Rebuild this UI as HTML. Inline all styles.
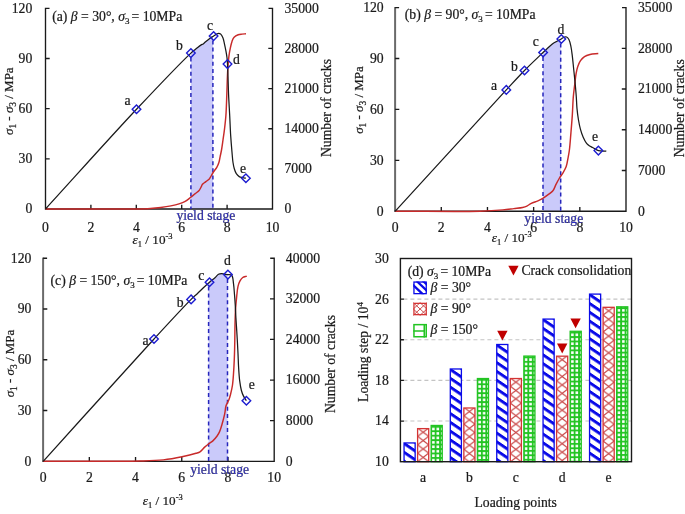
<!DOCTYPE html>
<html><head><meta charset="utf-8"><style>
html,body{margin:0;padding:0;background:#fff;}
svg{display:block;font-family:"Liberation Serif", serif;filter:blur(0.3px);}
text{stroke:#1a1a1a;stroke-width:0.22px;}
</style></head><body>
<svg width="685" height="514" viewBox="0 0 685 514">
<rect width="685" height="514" fill="#fff"/>
<clipPath id="clipa"><rect x="190.90" y="3.30" width="22.00" height="205.70"/></clipPath>
<path d="M45.50,209.00 C75.83,175.77 109.86,137.64 136.50,109.30 C156.78,87.73 183.66,59.88 190.90,53.10 C192.60,51.51 193.08,51.24 194.20,50.30 C195.35,49.34 196.52,48.31 197.70,47.40 C198.85,46.51 200.17,45.52 201.20,44.90 C201.94,44.45 202.55,44.33 203.20,43.90 C203.92,43.42 204.54,42.74 205.30,42.10 C206.19,41.35 207.28,40.44 208.20,39.70 C209.01,39.05 209.67,38.47 210.50,37.90 C211.39,37.29 212.34,36.83 213.40,36.20 C214.70,35.43 216.36,33.88 217.70,33.60 C218.72,33.39 219.78,33.46 220.60,34.00 C221.63,34.68 222.37,36.47 223.00,38.00 C223.73,39.77 224.03,42.01 224.50,44.10 C225.00,46.30 225.48,48.63 225.90,50.90 C226.32,53.16 226.73,55.46 227.00,57.70 C227.26,59.86 227.35,61.60 227.50,64.10 C227.71,67.61 227.83,72.19 228.00,76.80 C228.20,82.32 228.33,88.75 228.60,95.00 C228.89,101.63 229.35,108.67 229.70,115.50 C230.05,122.31 230.29,129.47 230.70,135.90 C231.07,141.67 231.57,147.48 232.00,152.30 C232.34,156.10 232.55,159.52 233.00,162.50 C233.36,164.86 233.71,166.86 234.30,168.80 C234.84,170.56 235.40,172.35 236.30,173.70 C237.09,174.89 238.09,175.95 239.20,176.60 C240.24,177.21 241.55,177.33 242.70,177.60 C243.78,177.86 244.83,178.00 245.90,178.20 L245.90,209.00 L45.50,209.00 Z" fill="#cacafa" clip-path="url(#clipa)"/>
<path d="M49.50,8.30 H45.50 V209.00 H272.50 V8.30 H268.50" fill="none" stroke="#1a1a1a" stroke-width="1.35"/>
<path d="M45.50,158.82 h4.2 M45.50,108.65 h4.2 M45.50,58.47 h4.2 M272.50,168.86 h-4.2 M272.50,128.72 h-4.2 M272.50,88.58 h-4.2 M272.50,48.44 h-4.2 M90.90,209.00 v-4.2 M136.30,209.00 v-4.2 M181.70,209.00 v-4.2 M227.10,209.00 v-4.2" stroke="#1a1a1a" stroke-width="1.35"/>
<path d="M190.90,57.50 V209.00" stroke="#2626bc" stroke-width="1.5" stroke-dasharray="4.0,3.1"/>
<path d="M212.90,40.50 V209.00" stroke="#2626bc" stroke-width="1.5" stroke-dasharray="4.0,3.1"/>
<path d="M45.50,209.00 C70.33,209.00 104.27,209.00 120.00,209.00 C127.29,209.00 130.81,209.09 136.00,209.00 C140.93,208.91 146.01,208.79 150.40,208.50 C154.12,208.25 157.28,207.93 160.70,207.50 C164.11,207.07 167.71,206.54 170.90,205.90 C173.77,205.32 176.51,204.71 179.00,203.90 C181.23,203.18 183.25,202.48 185.20,201.40 C187.19,200.29 189.07,198.66 190.80,197.30 C192.38,196.06 193.77,194.77 195.20,193.60 C196.53,192.51 198.09,191.67 199.10,190.50 C200.00,189.45 200.50,188.10 201.10,187.00 C201.62,186.05 201.81,185.13 202.50,184.30 C203.32,183.30 204.77,182.50 205.90,181.60 C207.03,180.70 208.37,179.94 209.30,178.90 C210.19,177.90 210.72,176.65 211.40,175.50 C212.08,174.35 212.61,173.23 213.40,172.00 C214.35,170.52 215.87,168.93 216.80,167.30 C217.68,165.75 218.34,164.23 218.90,162.50 C219.51,160.62 219.76,158.50 220.20,156.40 C220.66,154.17 221.16,151.99 221.60,149.50 C222.11,146.59 222.53,143.28 223.00,140.00 C223.50,136.49 224.04,132.94 224.50,129.10 C225.01,124.82 225.53,120.50 225.90,115.50 C226.35,109.37 226.56,101.36 226.80,95.00 C227.01,89.47 227.09,84.50 227.30,79.50 C227.50,74.82 227.70,70.02 228.00,65.90 C228.25,62.45 228.50,59.44 228.90,56.40 C229.28,53.56 229.75,50.80 230.30,48.20 C230.80,45.82 231.27,43.35 232.00,41.40 C232.59,39.82 233.08,38.39 234.10,37.30 C235.14,36.18 236.81,35.33 238.20,34.80 C239.45,34.32 240.71,34.27 242.00,34.10 C243.31,33.93 244.67,33.90 246.00,33.80" fill="none" stroke="#c82a2a" stroke-width="1.45"/>
<path d="M45.50,209.00 C75.83,175.77 109.86,137.64 136.50,109.30 C156.78,87.73 183.66,59.88 190.90,53.10 C192.60,51.51 193.08,51.24 194.20,50.30 C195.35,49.34 196.52,48.31 197.70,47.40 C198.85,46.51 200.17,45.52 201.20,44.90 C201.94,44.45 202.55,44.33 203.20,43.90 C203.92,43.42 204.54,42.74 205.30,42.10 C206.19,41.35 207.28,40.44 208.20,39.70 C209.01,39.05 209.67,38.47 210.50,37.90 C211.39,37.29 212.34,36.83 213.40,36.20 C214.70,35.43 216.36,33.88 217.70,33.60 C218.72,33.39 219.78,33.46 220.60,34.00 C221.63,34.68 222.37,36.47 223.00,38.00 C223.73,39.77 224.03,42.01 224.50,44.10 C225.00,46.30 225.48,48.63 225.90,50.90 C226.32,53.16 226.73,55.46 227.00,57.70 C227.26,59.86 227.35,61.60 227.50,64.10 C227.71,67.61 227.83,72.19 228.00,76.80 C228.20,82.32 228.33,88.75 228.60,95.00 C228.89,101.63 229.35,108.67 229.70,115.50 C230.05,122.31 230.29,129.47 230.70,135.90 C231.07,141.67 231.57,147.48 232.00,152.30 C232.34,156.10 232.55,159.52 233.00,162.50 C233.36,164.86 233.71,166.86 234.30,168.80 C234.84,170.56 235.40,172.35 236.30,173.70 C237.09,174.89 238.09,175.95 239.20,176.60 C240.24,177.21 241.55,177.33 242.70,177.60 C243.78,177.86 244.83,178.00 245.90,178.20" fill="none" stroke="#1a1a1a" stroke-width="1.25"/>
<path d="M136.50,105.00 L140.80,109.30 L136.50,113.60 L132.20,109.30 Z" fill="none" stroke="#1c1cd0" stroke-width="1.4"/>
<path d="M190.90,48.80 L195.20,53.10 L190.90,57.40 L186.60,53.10 Z" fill="none" stroke="#1c1cd0" stroke-width="1.4"/>
<path d="M213.60,31.80 L217.90,36.10 L213.60,40.40 L209.30,36.10 Z" fill="none" stroke="#1c1cd0" stroke-width="1.4"/>
<path d="M227.50,59.80 L231.80,64.10 L227.50,68.40 L223.20,64.10 Z" fill="none" stroke="#1c1cd0" stroke-width="1.4"/>
<path d="M245.90,173.90 L250.20,178.20 L245.90,182.50 L241.60,178.20 Z" fill="none" stroke="#1c1cd0" stroke-width="1.4"/>
<text x="127.60" y="104.80" font-size="13.7" text-anchor="middle" fill="#1a1a1a" stroke="#1a1a1a" >a</text>
<text x="179.50" y="50.20" font-size="13.7" text-anchor="middle" fill="#1a1a1a" stroke="#1a1a1a" >b</text>
<text x="210.10" y="29.50" font-size="13.7" text-anchor="middle" fill="#1a1a1a" stroke="#1a1a1a" >c</text>
<text x="236.30" y="64.00" font-size="13.7" text-anchor="middle" fill="#1a1a1a" stroke="#1a1a1a" >d</text>
<text x="243.00" y="172.70" font-size="13.7" text-anchor="middle" fill="#1a1a1a" stroke="#1a1a1a" >e</text>
<text x="32.30" y="213.40" font-size="13.7" text-anchor="end" fill="#1a1a1a" stroke="#1a1a1a" >0</text>
<text x="32.30" y="163.22" font-size="13.7" text-anchor="end" fill="#1a1a1a" stroke="#1a1a1a" >30</text>
<text x="32.30" y="113.05" font-size="13.7" text-anchor="end" fill="#1a1a1a" stroke="#1a1a1a" >60</text>
<text x="32.30" y="62.87" font-size="13.7" text-anchor="end" fill="#1a1a1a" stroke="#1a1a1a" >90</text>
<text x="32.30" y="12.70" font-size="13.7" text-anchor="end" fill="#1a1a1a" stroke="#1a1a1a" >120</text>
<text x="284.50" y="213.40" font-size="13.7" text-anchor="start" fill="#1a1a1a" stroke="#1a1a1a" >0</text>
<text x="284.50" y="173.26" font-size="13.7" text-anchor="start" fill="#1a1a1a" stroke="#1a1a1a" >7000</text>
<text x="284.50" y="133.12" font-size="13.7" text-anchor="start" fill="#1a1a1a" stroke="#1a1a1a" >14000</text>
<text x="284.50" y="92.98" font-size="13.7" text-anchor="start" fill="#1a1a1a" stroke="#1a1a1a" >21000</text>
<text x="284.50" y="52.84" font-size="13.7" text-anchor="start" fill="#1a1a1a" stroke="#1a1a1a" >28000</text>
<text x="284.50" y="12.70" font-size="13.7" text-anchor="start" fill="#1a1a1a" stroke="#1a1a1a" >35000</text>
<text x="45.50" y="231.70" font-size="13.7" text-anchor="middle" fill="#1a1a1a" stroke="#1a1a1a" >0</text>
<text x="90.90" y="231.70" font-size="13.7" text-anchor="middle" fill="#1a1a1a" stroke="#1a1a1a" >2</text>
<text x="136.30" y="231.70" font-size="13.7" text-anchor="middle" fill="#1a1a1a" stroke="#1a1a1a" >4</text>
<text x="181.70" y="231.70" font-size="13.7" text-anchor="middle" fill="#1a1a1a" stroke="#1a1a1a" >6</text>
<text x="227.10" y="231.70" font-size="13.7" text-anchor="middle" fill="#1a1a1a" stroke="#1a1a1a" >8</text>
<text x="272.50" y="231.70" font-size="13.7" text-anchor="middle" fill="#1a1a1a" stroke="#1a1a1a" >10</text>
<text x="176.40" y="220.20" font-size="13.7" text-anchor="start" fill="#2e2ed2" stroke="#2e2ed2" >yield stage</text>
<text x="52.20" y="20.80" font-size="13.7" fill="#1a1a1a">(a) <tspan font-style="italic">β</tspan> = 30°, <tspan font-style="italic">σ</tspan><tspan font-size="9" dy="3">3</tspan><tspan dy="-3" dx="-1.4"> = 10MPa</tspan></text>
<text x="132.60" y="243.90" font-size="13.2" fill="#1a1a1a"><tspan font-style="italic">ε</tspan><tspan font-size="8.5" dy="3">1</tspan><tspan dy="-3"> / 10</tspan><tspan font-size="8.5" dy="-5">-3</tspan></text>
<text transform="translate(13.00,101.20) rotate(-90)" text-anchor="middle" font-size="13.0" fill="#1a1a1a"><tspan font-style="italic">σ</tspan><tspan font-size="9.3" dy="3.3">1</tspan><tspan dy="-3.3"> - </tspan><tspan font-style="italic">σ</tspan><tspan font-size="9.3" dy="3.3">3</tspan><tspan dy="-3.3"> / MPa</tspan></text>
<text transform="translate(330.90,108.00) rotate(-90)" text-anchor="middle" font-size="13.7" fill="#1a1a1a">Number of cracks</text>
<clipPath id="clipb"><rect x="543.00" y="2.60" width="17.70" height="208.60"/></clipPath>
<path d="M395.30,211.20 C432.30,170.77 484.93,112.96 506.30,89.90 C514.90,80.62 518.32,76.77 524.50,70.50 C530.59,64.31 539.04,56.40 543.10,52.50 C545.07,50.61 546.01,49.67 547.50,48.30 C548.98,46.94 550.70,45.35 552.00,44.30 C552.93,43.55 553.64,43.01 554.50,42.50 C555.31,42.02 556.06,41.78 557.00,41.30 C558.25,40.67 559.98,39.76 561.30,39.00 C562.46,38.33 563.51,37.28 564.50,37.00 C565.24,36.79 565.94,36.71 566.60,37.00 C567.44,37.37 568.26,38.36 568.90,39.50 C569.83,41.16 570.36,43.90 570.90,46.40 C571.53,49.29 571.87,52.52 572.30,55.90 C572.78,59.73 573.16,64.00 573.60,68.20 C574.06,72.62 574.56,77.14 575.00,81.80 C575.46,86.72 575.96,92.27 576.30,97.00 C576.60,101.13 576.64,104.80 577.00,108.60 C577.35,112.30 577.81,115.99 578.40,119.50 C578.96,122.81 579.56,126.06 580.40,129.10 C581.18,131.94 582.10,134.72 583.20,137.20 C584.20,139.45 585.39,141.91 586.60,143.40 C587.46,144.46 588.31,145.03 589.30,145.70 C590.33,146.40 591.42,146.81 592.70,147.50 C594.36,148.39 596.27,149.99 598.40,150.60 C600.75,151.28 603.67,150.93 606.30,151.10 L606.30,211.20 L395.30,211.20 Z" fill="#cacafa" clip-path="url(#clipb)"/>
<path d="M395.10,7.00 V211.20" stroke="#6a6a6a" stroke-width="2.0"/>
<path d="M399.10,7.60 H395.10 M394.40,211.20 H626.00 V7.60 H622.00" fill="none" stroke="#1a1a1a" stroke-width="1.35"/>
<path d="M395.10,160.30 h4.2 M395.10,109.40 h4.2 M395.10,58.50 h4.2 M626.00,170.48 h-4.2 M626.00,129.76 h-4.2 M626.00,89.04 h-4.2 M626.00,48.32 h-4.2 M441.28,211.20 v-4.2 M487.46,211.20 v-4.2 M533.64,211.20 v-4.2 M579.82,211.20 v-4.2" stroke="#1a1a1a" stroke-width="1.35"/>
<path d="M543.00,57.00 V211.20" stroke="#2626bc" stroke-width="1.5" stroke-dasharray="4.0,3.1"/>
<path d="M560.70,43.50 V211.20" stroke="#2626bc" stroke-width="1.5" stroke-dasharray="4.0,3.1"/>
<path d="M395.30,211.20 C423.53,211.20 460.72,211.75 480.00,211.20 C490.01,210.91 496.58,210.44 502.80,209.90 C507.13,209.52 510.34,209.02 513.80,208.60 C516.90,208.22 520.21,208.03 522.60,207.50 C524.31,207.12 525.50,206.76 526.90,206.10 C528.40,205.39 529.63,204.12 531.30,203.30 C533.23,202.35 535.89,201.78 537.90,200.90 C539.68,200.13 541.19,199.37 542.80,198.40 C544.49,197.38 546.15,196.14 547.80,194.90 C549.51,193.61 551.54,192.51 552.90,190.80 C554.34,188.99 555.02,186.31 556.10,184.20 C557.12,182.22 558.07,180.37 559.20,178.50 C560.36,176.57 561.84,174.78 563.00,172.80 C564.18,170.79 565.37,168.84 566.20,166.50 C567.14,163.84 567.55,160.46 568.10,157.60 C568.61,154.97 569.01,153.04 569.40,150.00 C569.99,145.49 570.42,138.80 570.90,133.10 C571.39,127.27 571.90,121.36 572.30,115.40 C572.71,109.33 572.84,102.54 573.30,97.00 C573.68,92.43 574.22,88.52 574.70,84.50 C575.15,80.74 575.52,76.79 576.10,73.60 C576.56,71.05 576.96,68.97 577.70,66.80 C578.43,64.67 579.30,62.45 580.50,60.70 C581.61,59.09 582.93,57.63 584.50,56.60 C586.09,55.55 587.94,55.01 590.00,54.50 C592.45,53.89 595.53,53.83 598.30,53.50" fill="none" stroke="#c82a2a" stroke-width="1.45"/>
<path d="M395.30,211.20 C432.30,170.77 484.93,112.96 506.30,89.90 C514.90,80.62 518.32,76.77 524.50,70.50 C530.59,64.31 539.04,56.40 543.10,52.50 C545.07,50.61 546.01,49.67 547.50,48.30 C548.98,46.94 550.70,45.35 552.00,44.30 C552.93,43.55 553.64,43.01 554.50,42.50 C555.31,42.02 556.06,41.78 557.00,41.30 C558.25,40.67 559.98,39.76 561.30,39.00 C562.46,38.33 563.51,37.28 564.50,37.00 C565.24,36.79 565.94,36.71 566.60,37.00 C567.44,37.37 568.26,38.36 568.90,39.50 C569.83,41.16 570.36,43.90 570.90,46.40 C571.53,49.29 571.87,52.52 572.30,55.90 C572.78,59.73 573.16,64.00 573.60,68.20 C574.06,72.62 574.56,77.14 575.00,81.80 C575.46,86.72 575.96,92.27 576.30,97.00 C576.60,101.13 576.64,104.80 577.00,108.60 C577.35,112.30 577.81,115.99 578.40,119.50 C578.96,122.81 579.56,126.06 580.40,129.10 C581.18,131.94 582.10,134.72 583.20,137.20 C584.20,139.45 585.39,141.91 586.60,143.40 C587.46,144.46 588.31,145.03 589.30,145.70 C590.33,146.40 591.42,146.81 592.70,147.50 C594.36,148.39 596.27,149.99 598.40,150.60 C600.75,151.28 603.67,150.93 606.30,151.10" fill="none" stroke="#1a1a1a" stroke-width="1.25"/>
<path d="M506.30,85.60 L510.60,89.90 L506.30,94.20 L502.00,89.90 Z" fill="none" stroke="#1c1cd0" stroke-width="1.4"/>
<path d="M524.50,66.20 L528.80,70.50 L524.50,74.80 L520.20,70.50 Z" fill="none" stroke="#1c1cd0" stroke-width="1.4"/>
<path d="M543.10,48.20 L547.40,52.50 L543.10,56.80 L538.80,52.50 Z" fill="none" stroke="#1c1cd0" stroke-width="1.4"/>
<path d="M561.30,34.70 L565.60,39.00 L561.30,43.30 L557.00,39.00 Z" fill="none" stroke="#1c1cd0" stroke-width="1.4"/>
<path d="M598.40,146.30 L602.70,150.60 L598.40,154.90 L594.10,150.60 Z" fill="none" stroke="#1c1cd0" stroke-width="1.4"/>
<text x="494.10" y="90.20" font-size="13.7" text-anchor="middle" fill="#1a1a1a" stroke="#1a1a1a" >a</text>
<text x="514.50" y="71.20" font-size="13.7" text-anchor="middle" fill="#1a1a1a" stroke="#1a1a1a" >b</text>
<text x="535.80" y="46.40" font-size="13.7" text-anchor="middle" fill="#1a1a1a" stroke="#1a1a1a" >c</text>
<text x="561.00" y="34.10" font-size="13.7" text-anchor="middle" fill="#1a1a1a" stroke="#1a1a1a" >d</text>
<text x="595.10" y="140.80" font-size="13.7" text-anchor="middle" fill="#1a1a1a" stroke="#1a1a1a" >e</text>
<text x="383.70" y="215.60" font-size="13.7" text-anchor="end" fill="#1a1a1a" stroke="#1a1a1a" >0</text>
<text x="383.70" y="164.70" font-size="13.7" text-anchor="end" fill="#1a1a1a" stroke="#1a1a1a" >30</text>
<text x="383.70" y="113.80" font-size="13.7" text-anchor="end" fill="#1a1a1a" stroke="#1a1a1a" >60</text>
<text x="383.70" y="62.90" font-size="13.7" text-anchor="end" fill="#1a1a1a" stroke="#1a1a1a" >90</text>
<text x="383.70" y="12.00" font-size="13.7" text-anchor="end" fill="#1a1a1a" stroke="#1a1a1a" >120</text>
<text x="638.00" y="215.60" font-size="13.7" text-anchor="start" fill="#1a1a1a" stroke="#1a1a1a" >0</text>
<text x="638.00" y="174.88" font-size="13.7" text-anchor="start" fill="#1a1a1a" stroke="#1a1a1a" >7000</text>
<text x="638.00" y="134.16" font-size="13.7" text-anchor="start" fill="#1a1a1a" stroke="#1a1a1a" >14000</text>
<text x="638.00" y="93.44" font-size="13.7" text-anchor="start" fill="#1a1a1a" stroke="#1a1a1a" >21000</text>
<text x="638.00" y="52.72" font-size="13.7" text-anchor="start" fill="#1a1a1a" stroke="#1a1a1a" >28000</text>
<text x="638.00" y="12.00" font-size="13.7" text-anchor="start" fill="#1a1a1a" stroke="#1a1a1a" >35000</text>
<text x="395.10" y="232.00" font-size="13.7" text-anchor="middle" fill="#1a1a1a" stroke="#1a1a1a" >0</text>
<text x="441.28" y="232.00" font-size="13.7" text-anchor="middle" fill="#1a1a1a" stroke="#1a1a1a" >2</text>
<text x="487.46" y="232.00" font-size="13.7" text-anchor="middle" fill="#1a1a1a" stroke="#1a1a1a" >4</text>
<text x="533.64" y="232.00" font-size="13.7" text-anchor="middle" fill="#1a1a1a" stroke="#1a1a1a" >6</text>
<text x="579.82" y="232.00" font-size="13.7" text-anchor="middle" fill="#1a1a1a" stroke="#1a1a1a" >8</text>
<text x="626.00" y="232.00" font-size="13.7" text-anchor="middle" fill="#1a1a1a" stroke="#1a1a1a" >10</text>
<text x="524.30" y="223.20" font-size="13.7" text-anchor="start" fill="#2e2ed2" stroke="#2e2ed2" >yield stage</text>
<text x="404.80" y="19.20" font-size="13.7" fill="#1a1a1a">(b) <tspan font-style="italic">β</tspan> = 90°, <tspan font-style="italic">σ</tspan><tspan font-size="9" dy="3">3</tspan><tspan dy="-3" dx="-1.4"> = 10MPa</tspan></text>
<text x="491.70" y="241.90" font-size="13.2" fill="#1a1a1a"><tspan font-style="italic">ε</tspan><tspan font-size="8.5" dy="3">1</tspan><tspan dy="-3"> / 10</tspan><tspan font-size="8.5" dy="-5">-3</tspan></text>
<text transform="translate(363.00,100.00) rotate(-90)" text-anchor="middle" font-size="13.0" fill="#1a1a1a"><tspan font-style="italic">σ</tspan><tspan font-size="9.3" dy="3.3">1</tspan><tspan dy="-3.3"> - </tspan><tspan font-style="italic">σ</tspan><tspan font-size="9.3" dy="3.3">3</tspan><tspan dy="-3.3"> / MPa</tspan></text>
<text transform="translate(683.50,108.30) rotate(-90)" text-anchor="middle" font-size="13.7" fill="#1a1a1a">Number of cracks</text>
<clipPath id="clipc"><rect x="208.60" y="253.20" width="19.00" height="208.10"/></clipPath>
<path d="M43.20,461.30 C80.13,420.53 126.83,368.49 154.00,339.00 C169.58,322.09 183.76,306.68 191.10,299.40 C194.04,296.48 195.43,295.47 197.50,293.50 C199.52,291.57 201.40,289.59 203.40,287.70 C205.40,285.82 207.49,283.90 209.50,282.20 C211.36,280.62 213.41,279.23 215.00,277.80 C216.34,276.60 217.28,274.98 218.50,274.30 C219.46,273.76 220.51,273.63 221.50,273.60 C222.47,273.57 223.39,273.94 224.40,274.10 C225.51,274.28 226.71,274.38 227.90,274.60 C229.17,274.84 230.87,274.55 231.80,275.50 C233.14,276.86 233.06,280.69 233.50,283.60 C234.00,286.95 234.21,290.98 234.50,294.50 C234.77,297.80 234.98,300.62 235.20,304.10 C235.46,308.24 235.65,313.42 235.90,317.70 C236.12,321.53 236.37,324.93 236.60,328.60 C236.84,332.36 237.08,336.03 237.30,340.00 C237.54,344.33 237.78,349.06 238.00,353.60 C238.22,358.16 238.32,362.74 238.60,367.30 C238.88,371.84 239.17,376.77 239.70,380.90 C240.15,384.39 240.66,387.79 241.40,390.50 C241.97,392.59 242.56,394.19 243.40,395.90 C244.23,397.59 245.40,399.10 246.40,400.70 L246.40,461.30 L43.20,461.30 Z" fill="#cacafa" clip-path="url(#clipc)"/>
<path d="M43.10,257.60 V461.30" stroke="#6a6a6a" stroke-width="2.0"/>
<path d="M47.10,258.20 H43.10 M42.40,461.30 H274.20 V258.20 H270.20" fill="none" stroke="#1a1a1a" stroke-width="1.35"/>
<path d="M43.10,410.52 h4.2 M43.10,359.75 h4.2 M43.10,308.98 h4.2 M274.20,420.68 h-4.2 M274.20,380.06 h-4.2 M274.20,339.44 h-4.2 M274.20,298.82 h-4.2 M89.32,461.30 v-4.2 M135.54,461.30 v-4.2 M181.76,461.30 v-4.2 M227.98,461.30 v-4.2" stroke="#1a1a1a" stroke-width="1.35"/>
<path d="M208.60,286.50 V461.30" stroke="#2626bc" stroke-width="1.5" stroke-dasharray="4.0,3.1"/>
<path d="M227.50,279.00 V461.30" stroke="#2626bc" stroke-width="1.5" stroke-dasharray="4.0,3.1"/>
<path d="M43.20,461.30 C75.47,461.20 118.76,461.53 140.00,461.00 C150.42,460.74 155.98,460.68 163.30,459.90 C169.90,459.20 176.24,458.00 182.00,456.80 C187.03,455.76 192.77,454.31 196.00,453.30 C197.76,452.75 198.72,452.62 200.00,451.80 C201.54,450.81 202.96,448.72 204.40,447.40 C205.69,446.22 206.86,445.23 208.20,444.20 C209.59,443.13 211.20,442.36 212.60,441.10 C214.18,439.68 215.89,437.70 217.10,436.00 C218.15,434.53 218.84,433.31 219.60,431.60 C220.55,429.45 221.30,426.73 222.10,424.00 C223.01,420.89 224.05,417.04 224.70,413.90 C225.26,411.20 225.35,408.25 225.90,406.30 C226.27,405.01 226.73,404.23 227.20,403.20 C227.69,402.13 228.30,401.23 228.80,400.00 C229.43,398.44 229.96,396.60 230.50,394.50 C231.21,391.78 231.97,388.68 232.50,385.00 C233.22,380.03 233.56,372.83 233.90,367.30 C234.20,362.44 234.35,358.16 234.50,353.60 C234.65,349.06 234.72,344.68 234.80,340.00 C234.89,335.00 234.87,329.73 235.00,324.50 C235.13,319.13 235.29,313.08 235.60,308.20 C235.86,304.20 236.20,300.93 236.60,297.30 C237.00,293.66 237.27,289.39 238.00,286.40 C238.53,284.22 239.13,282.46 240.00,280.90 C240.75,279.56 241.57,278.30 242.70,277.50 C243.83,276.70 245.43,276.57 246.80,276.10" fill="none" stroke="#c82a2a" stroke-width="1.45"/>
<path d="M43.20,461.30 C80.13,420.53 126.83,368.49 154.00,339.00 C169.58,322.09 183.76,306.68 191.10,299.40 C194.04,296.48 195.43,295.47 197.50,293.50 C199.52,291.57 201.40,289.59 203.40,287.70 C205.40,285.82 207.49,283.90 209.50,282.20 C211.36,280.62 213.41,279.23 215.00,277.80 C216.34,276.60 217.28,274.98 218.50,274.30 C219.46,273.76 220.51,273.63 221.50,273.60 C222.47,273.57 223.39,273.94 224.40,274.10 C225.51,274.28 226.71,274.38 227.90,274.60 C229.17,274.84 230.87,274.55 231.80,275.50 C233.14,276.86 233.06,280.69 233.50,283.60 C234.00,286.95 234.21,290.98 234.50,294.50 C234.77,297.80 234.98,300.62 235.20,304.10 C235.46,308.24 235.65,313.42 235.90,317.70 C236.12,321.53 236.37,324.93 236.60,328.60 C236.84,332.36 237.08,336.03 237.30,340.00 C237.54,344.33 237.78,349.06 238.00,353.60 C238.22,358.16 238.32,362.74 238.60,367.30 C238.88,371.84 239.17,376.77 239.70,380.90 C240.15,384.39 240.66,387.79 241.40,390.50 C241.97,392.59 242.56,394.19 243.40,395.90 C244.23,397.59 245.40,399.10 246.40,400.70" fill="none" stroke="#1a1a1a" stroke-width="1.25"/>
<path d="M154.00,334.70 L158.30,339.00 L154.00,343.30 L149.70,339.00 Z" fill="none" stroke="#1c1cd0" stroke-width="1.4"/>
<path d="M191.10,295.10 L195.40,299.40 L191.10,303.70 L186.80,299.40 Z" fill="none" stroke="#1c1cd0" stroke-width="1.4"/>
<path d="M209.50,277.90 L213.80,282.20 L209.50,286.50 L205.20,282.20 Z" fill="none" stroke="#1c1cd0" stroke-width="1.4"/>
<path d="M227.90,270.30 L232.20,274.60 L227.90,278.90 L223.60,274.60 Z" fill="none" stroke="#1c1cd0" stroke-width="1.4"/>
<path d="M246.40,396.40 L250.70,400.70 L246.40,405.00 L242.10,400.70 Z" fill="none" stroke="#1c1cd0" stroke-width="1.4"/>
<text x="145.60" y="344.80" font-size="13.7" text-anchor="middle" fill="#1a1a1a" stroke="#1a1a1a" >a</text>
<text x="180.20" y="307.40" font-size="13.7" text-anchor="middle" fill="#1a1a1a" stroke="#1a1a1a" >b</text>
<text x="201.40" y="279.60" font-size="13.7" text-anchor="middle" fill="#1a1a1a" stroke="#1a1a1a" >c</text>
<text x="227.30" y="265.00" font-size="13.7" text-anchor="middle" fill="#1a1a1a" stroke="#1a1a1a" >d</text>
<text x="251.80" y="388.80" font-size="13.7" text-anchor="middle" fill="#1a1a1a" stroke="#1a1a1a" >e</text>
<text x="31.40" y="465.70" font-size="13.7" text-anchor="end" fill="#1a1a1a" stroke="#1a1a1a" >0</text>
<text x="31.40" y="414.92" font-size="13.7" text-anchor="end" fill="#1a1a1a" stroke="#1a1a1a" >30</text>
<text x="31.40" y="364.15" font-size="13.7" text-anchor="end" fill="#1a1a1a" stroke="#1a1a1a" >60</text>
<text x="31.40" y="313.38" font-size="13.7" text-anchor="end" fill="#1a1a1a" stroke="#1a1a1a" >90</text>
<text x="31.40" y="262.60" font-size="13.7" text-anchor="end" fill="#1a1a1a" stroke="#1a1a1a" >120</text>
<text x="285.80" y="465.70" font-size="13.7" text-anchor="start" fill="#1a1a1a" stroke="#1a1a1a" >0</text>
<text x="285.80" y="425.08" font-size="13.7" text-anchor="start" fill="#1a1a1a" stroke="#1a1a1a" >8000</text>
<text x="285.80" y="384.46" font-size="13.7" text-anchor="start" fill="#1a1a1a" stroke="#1a1a1a" >16000</text>
<text x="285.80" y="343.84" font-size="13.7" text-anchor="start" fill="#1a1a1a" stroke="#1a1a1a" >24000</text>
<text x="285.80" y="303.22" font-size="13.7" text-anchor="start" fill="#1a1a1a" stroke="#1a1a1a" >32000</text>
<text x="285.80" y="262.60" font-size="13.7" text-anchor="start" fill="#1a1a1a" stroke="#1a1a1a" >40000</text>
<text x="43.10" y="482.00" font-size="13.7" text-anchor="middle" fill="#1a1a1a" stroke="#1a1a1a" >0</text>
<text x="89.32" y="482.00" font-size="13.7" text-anchor="middle" fill="#1a1a1a" stroke="#1a1a1a" >2</text>
<text x="135.54" y="482.00" font-size="13.7" text-anchor="middle" fill="#1a1a1a" stroke="#1a1a1a" >4</text>
<text x="181.76" y="482.00" font-size="13.7" text-anchor="middle" fill="#1a1a1a" stroke="#1a1a1a" >6</text>
<text x="227.98" y="482.00" font-size="13.7" text-anchor="middle" fill="#1a1a1a" stroke="#1a1a1a" >8</text>
<text x="274.20" y="482.00" font-size="13.7" text-anchor="middle" fill="#1a1a1a" stroke="#1a1a1a" >10</text>
<text x="190.20" y="474.00" font-size="13.7" text-anchor="start" fill="#2e2ed2" stroke="#2e2ed2" >yield stage</text>
<text x="50.50" y="285.20" font-size="13.7" fill="#1a1a1a">(c) <tspan font-style="italic">β</tspan> = 150°, <tspan font-style="italic">σ</tspan><tspan font-size="9" dy="3">3</tspan><tspan dy="-3" dx="-1.4"> = 10MPa</tspan></text>
<text x="142.80" y="505.10" font-size="13.2" fill="#1a1a1a"><tspan font-style="italic">ε</tspan><tspan font-size="8.5" dy="3">1</tspan><tspan dy="-3"> / 10</tspan><tspan font-size="8.5" dy="-5">-3</tspan></text>
<text transform="translate(13.70,363.50) rotate(-90)" text-anchor="middle" font-size="13.0" fill="#1a1a1a"><tspan font-style="italic">σ</tspan><tspan font-size="9.3" dy="3.3">1</tspan><tspan dy="-3.3"> - </tspan><tspan font-style="italic">σ</tspan><tspan font-size="9.3" dy="3.3">3</tspan><tspan dy="-3.3"> / MPa</tspan></text>
<text transform="translate(334.80,364.00) rotate(-90)" text-anchor="middle" font-size="13.7" fill="#1a1a1a">Number of cracks</text>
<defs><pattern id="p00" patternUnits="userSpaceOnUse" x="0" y="169.20" width="20" height="8.8" patternTransform="skewY(34)"><rect width="20" height="8.8" fill="#fff"/><rect x="0" y="0" width="20" height="3.5" fill="#0a0ae8"/></pattern><pattern id="p01" patternUnits="userSpaceOnUse" x="417.60" y="427.97" width="11.10" height="8.4"><rect width="11.10" height="8.4" fill="#fff"/><path d="M0,0 L11.10,8.4 M11.10,0 L0,8.4" stroke="#c84444" stroke-width="1.2"/></pattern><pattern id="p02" patternUnits="userSpaceOnUse" x="431.10" y="426.72" width="4.45" height="4.45"><rect width="4.45" height="4.45" fill="#22c422"/><rect x="1.0" y="1.0" width="2.6" height="2.6" fill="#fff"/></pattern><pattern id="p10" patternUnits="userSpaceOnUse" x="0" y="64.04" width="20" height="8.8" patternTransform="skewY(34)"><rect width="20" height="8.8" fill="#fff"/><rect x="0" y="0" width="20" height="3.5" fill="#0a0ae8"/></pattern><pattern id="p11" patternUnits="userSpaceOnUse" x="463.85" y="407.34" width="11.10" height="8.4"><rect width="11.10" height="8.4" fill="#fff"/><path d="M0,0 L11.10,8.4 M11.10,0 L0,8.4" stroke="#c84444" stroke-width="1.2"/></pattern><pattern id="p12" patternUnits="userSpaceOnUse" x="477.35" y="379.78" width="4.45" height="4.45"><rect width="4.45" height="4.45" fill="#22c422"/><rect x="1.0" y="1.0" width="2.6" height="2.6" fill="#fff"/></pattern><pattern id="p20" patternUnits="userSpaceOnUse" x="0" y="8.22" width="20" height="8.8" patternTransform="skewY(34)"><rect width="20" height="8.8" fill="#fff"/><rect x="0" y="0" width="20" height="3.5" fill="#0a0ae8"/></pattern><pattern id="p21" patternUnits="userSpaceOnUse" x="510.30" y="377.88" width="11.10" height="8.4"><rect width="11.10" height="8.4" fill="#fff"/><path d="M0,0 L11.10,8.4 M11.10,0 L0,8.4" stroke="#c84444" stroke-width="1.2"/></pattern><pattern id="p22" patternUnits="userSpaceOnUse" x="523.80" y="357.33" width="4.45" height="4.45"><rect width="4.45" height="4.45" fill="#22c422"/><rect x="1.0" y="1.0" width="2.6" height="2.6" fill="#fff"/></pattern><pattern id="p30" patternUnits="userSpaceOnUse" x="0" y="-48.41" width="20" height="8.8" patternTransform="skewY(34)"><rect width="20" height="8.8" fill="#fff"/><rect x="0" y="0" width="20" height="3.5" fill="#0a0ae8"/></pattern><pattern id="p31" patternUnits="userSpaceOnUse" x="556.60" y="355.53" width="11.10" height="8.4"><rect width="11.10" height="8.4" fill="#fff"/><path d="M0,0 L11.10,8.4 M11.10,0 L0,8.4" stroke="#c84444" stroke-width="1.2"/></pattern><pattern id="p32" patternUnits="userSpaceOnUse" x="570.10" y="332.54" width="4.45" height="4.45"><rect width="4.45" height="4.45" fill="#22c422"/><rect x="1.0" y="1.0" width="2.6" height="2.6" fill="#fff"/></pattern><pattern id="p40" patternUnits="userSpaceOnUse" x="0" y="-104.77" width="20" height="8.8" patternTransform="skewY(34)"><rect width="20" height="8.8" fill="#fff"/><rect x="0" y="0" width="20" height="3.5" fill="#0a0ae8"/></pattern><pattern id="p41" patternUnits="userSpaceOnUse" x="603.10" y="306.66" width="11.10" height="8.4"><rect width="11.10" height="8.4" fill="#fff"/><path d="M0,0 L11.10,8.4 M11.10,0 L0,8.4" stroke="#c84444" stroke-width="1.2"/></pattern><pattern id="p42" patternUnits="userSpaceOnUse" x="616.60" y="308.05" width="4.45" height="4.45"><rect width="4.45" height="4.45" fill="#22c422"/><rect x="1.0" y="1.0" width="2.6" height="2.6" fill="#fff"/></pattern></defs>
<path d="M403.40,421.06 H631.50" stroke="#c4c4c4" stroke-width="1.1" stroke-dasharray="4,3"/>
<path d="M403.40,380.42 H631.50" stroke="#c4c4c4" stroke-width="1.1" stroke-dasharray="4,3"/>
<path d="M403.40,339.78 H631.50" stroke="#c4c4c4" stroke-width="1.1" stroke-dasharray="4,3"/>
<path d="M403.40,299.14 H631.50" stroke="#c4c4c4" stroke-width="1.1" stroke-dasharray="4,3"/>
<text x="423.15" y="481.80" font-size="13.7" text-anchor="middle" fill="#1a1a1a" stroke="#1a1a1a" >a</text>
<text x="469.40" y="481.80" font-size="13.7" text-anchor="middle" fill="#1a1a1a" stroke="#1a1a1a" >b</text>
<text x="515.85" y="481.80" font-size="13.7" text-anchor="middle" fill="#1a1a1a" stroke="#1a1a1a" >c</text>
<text x="562.15" y="481.80" font-size="13.7" text-anchor="middle" fill="#1a1a1a" stroke="#1a1a1a" >d</text>
<text x="608.65" y="481.80" font-size="13.7" text-anchor="middle" fill="#1a1a1a" stroke="#1a1a1a" >e</text>
<rect x="404.05" y="442.94" width="11.10" height="18.76" fill="url(#p00)" stroke="#0a0ae8" stroke-width="1.3"/>
<rect x="417.60" y="428.62" width="11.10" height="33.08" fill="url(#p01)" stroke="#d43434" stroke-width="1.3"/>
<rect x="431.15" y="425.47" width="11.10" height="36.23" fill="url(#p02)" stroke="#22c422" stroke-width="1.3"/>
<rect x="450.30" y="368.98" width="11.10" height="92.72" fill="url(#p10)" stroke="#0a0ae8" stroke-width="1.3"/>
<rect x="463.85" y="407.99" width="11.10" height="53.71" fill="url(#p11)" stroke="#d43434" stroke-width="1.3"/>
<rect x="477.40" y="378.53" width="11.10" height="83.17" fill="url(#p12)" stroke="#22c422" stroke-width="1.3"/>
<rect x="496.75" y="344.49" width="11.10" height="117.21" fill="url(#p20)" stroke="#0a0ae8" stroke-width="1.3"/>
<rect x="510.30" y="378.53" width="11.10" height="83.17" fill="url(#p21)" stroke="#d43434" stroke-width="1.3"/>
<rect x="523.85" y="356.08" width="11.10" height="105.62" fill="url(#p22)" stroke="#22c422" stroke-width="1.3"/>
<rect x="543.05" y="319.09" width="11.10" height="142.61" fill="url(#p30)" stroke="#0a0ae8" stroke-width="1.3"/>
<rect x="556.60" y="356.18" width="11.10" height="105.52" fill="url(#p31)" stroke="#d43434" stroke-width="1.3"/>
<rect x="570.15" y="331.29" width="11.10" height="130.41" fill="url(#p32)" stroke="#22c422" stroke-width="1.3"/>
<rect x="589.55" y="294.10" width="11.10" height="167.60" fill="url(#p40)" stroke="#0a0ae8" stroke-width="1.3"/>
<rect x="603.10" y="307.31" width="11.10" height="154.39" fill="url(#p41)" stroke="#d43434" stroke-width="1.3"/>
<rect x="616.65" y="306.80" width="11.10" height="154.90" fill="url(#p42)" stroke="#22c422" stroke-width="1.3"/>
<clipPath id="lc0"><rect x="413.30" y="281.40" width="13.60" height="12.90"/></clipPath>
<rect x="413.30" y="281.40" width="13.60" height="12.90" fill="#fff"/>
<g clip-path="url(#lc0)" stroke="#0a0ae8" stroke-width="2.3"><path d="M416.6,281.0 L427.6,291.4 M412.6,284.6 L423.8,295.2 M421.8,279.8 L430,287.6"/></g>
<rect x="413.95" y="282.05" width="12.30" height="11.60" fill="none" stroke="#0a0ae8" stroke-width="1.3"/>
<rect x="413.30" y="302.70" width="13.60" height="12.60" fill="#fff"/>
<path d="M413.30,302.70 L426.90,315.30 M426.90,302.70 L413.30,315.30 M420.10,302.70 L426.90,309.00 L420.10,315.30 L413.30,309.00 Z" fill="none" stroke="#c84444" stroke-width="0.95"/>
<rect x="413.95" y="303.35" width="12.30" height="11.30" fill="none" stroke="#d43434" stroke-width="1.3"/>
<rect x="413.95" y="324.65" width="12.30" height="12.10" fill="#fff" stroke="#22c422" stroke-width="1.5"/>
<path d="M424.3,324.00 V337.40 M413.30,331.0 H424.3" stroke="#22c422" stroke-width="1.6"/>
<path d="M497.20,330.80 H507.60 L502.40,340.60 Z" fill="#c00000"/>
<path d="M557.00,343.60 H567.40 L562.20,353.40 Z" fill="#c00000"/>
<path d="M570.40,318.40 H580.80 L575.60,328.20 Z" fill="#c00000"/>
<path d="M508.30,265.80 H518.60 L513.45,275.60 Z" fill="#c00000"/>
<rect x="400.40" y="258.50" width="231.10" height="203.20" fill="none" stroke="#1a1a1a" stroke-width="1.4"/>
<path d="M400.40,421.06 h3.5 M400.40,380.42 h3.5 M400.40,339.78 h3.5 M400.40,299.14 h3.5" stroke="#1a1a1a" stroke-width="1.35"/>
<text x="388.80" y="466.10" font-size="13.7" text-anchor="end" fill="#1a1a1a" stroke="#1a1a1a" >10</text>
<text x="388.80" y="425.46" font-size="13.7" text-anchor="end" fill="#1a1a1a" stroke="#1a1a1a" >14</text>
<text x="388.80" y="384.82" font-size="13.7" text-anchor="end" fill="#1a1a1a" stroke="#1a1a1a" >18</text>
<text x="388.80" y="344.18" font-size="13.7" text-anchor="end" fill="#1a1a1a" stroke="#1a1a1a" >22</text>
<text x="388.80" y="303.54" font-size="13.7" text-anchor="end" fill="#1a1a1a" stroke="#1a1a1a" >26</text>
<text x="388.80" y="262.90" font-size="13.7" text-anchor="end" fill="#1a1a1a" stroke="#1a1a1a" >30</text>
<text x="407.7" y="276.3" font-size="13.7" fill="#1a1a1a">(d) <tspan font-style="italic">σ</tspan><tspan font-size="9" dy="3">3</tspan><tspan dy="-3" dx="-1.4"> = 10MPa</tspan></text>
<text x="430.5" y="292.30" font-size="13.7" fill="#1a1a1a"><tspan font-style="italic">β</tspan> = 30°</text>
<text x="430.5" y="312.60" font-size="13.7" fill="#1a1a1a"><tspan font-style="italic">β</tspan> = 90°</text>
<text x="430.5" y="333.80" font-size="13.7" fill="#1a1a1a"><tspan font-style="italic">β</tspan> = 150°</text>
<text x="521.40" y="275.00" font-size="13.7" text-anchor="start" fill="#1a1a1a" stroke="#1a1a1a" >Crack consolidation</text>
<text x="515.70" y="507.00" font-size="13.7" text-anchor="middle" fill="#1a1a1a" stroke="#1a1a1a" >Loading points</text>
<text transform="translate(368.0,352.0) rotate(-90)" text-anchor="middle" font-size="13.7" fill="#1a1a1a">Loading step / 10<tspan font-size="9" dy="-5">4</tspan></text>
</svg>
</body></html>
